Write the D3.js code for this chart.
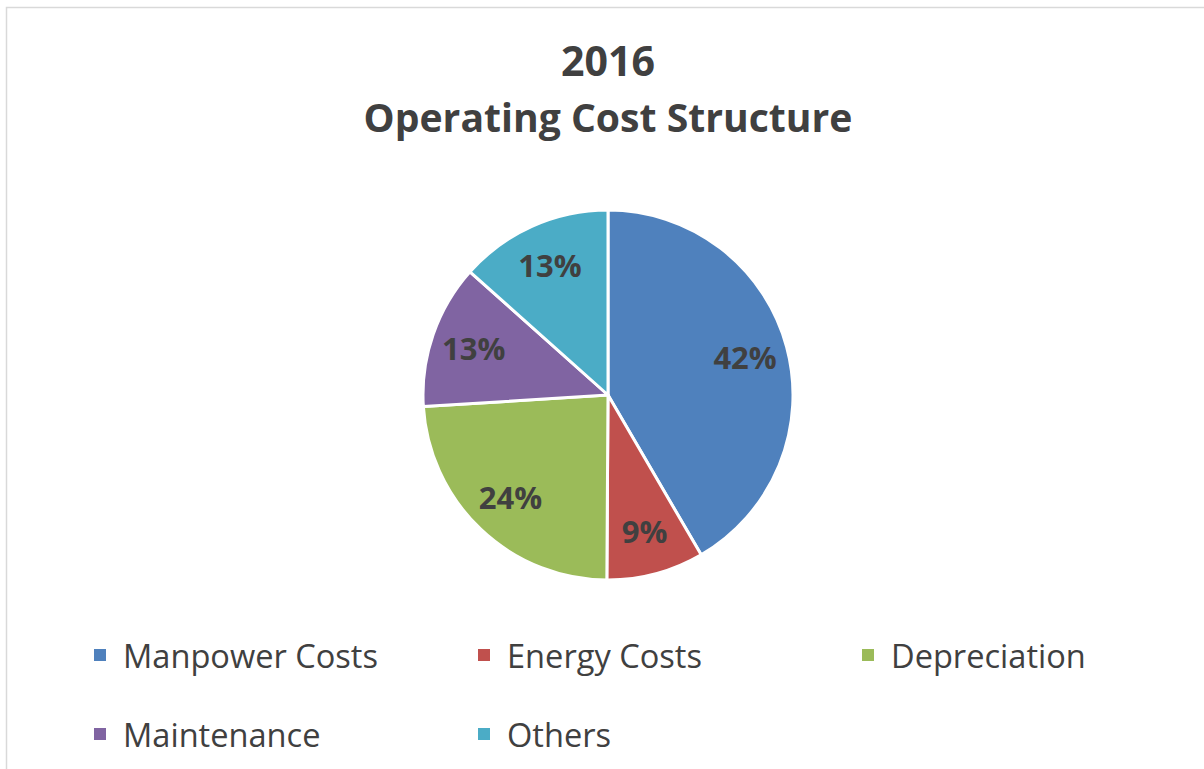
<!DOCTYPE html>
<html>
<head>
<meta charset="utf-8">
<script src="https://cdn.jsdelivr.net/npm/d3@7"></script>
<style>
html,body{margin:0;padding:0;background:#fff;}
svg{display:block;}
</style>
</head>
<body>
<svg id="chart" width="1204" height="769"></svg>
<script>
const titleLines = ["2016", "Operating Cost Structure"];
const categories = ["Manpower Costs", "Energy Costs", "Depreciation", "Maintenance", "Others"];
const values = [41.6, 8.5, 23.9, 12.6, 13.4];
const colors = ["#4F81BD", "#C0504D", "#9BBB59", "#8064A2", "#4BACC6"];

const svg = d3.select("#chart");
const W = 1204, H = 769;
const textColor = "#404040";
const font = "'Open Sans', 'Noto Sans', sans-serif";

svg.append("rect").attr("x", 6.5).attr("y", 7.5).attr("width", W + 20).attr("height", H + 20)
  .attr("fill", "#fff").attr("stroke", "#d9d9d9").attr("stroke-width", 1.5);

function fitWidth(sel, target) {
  const node = sel.node();
  const fs = parseFloat(sel.attr("font-size"));
  const w = node.getComputedTextLength();
  sel.attr("font-size", (fs * target / w).toFixed(2));
}

// Title
const t1 = svg.append("text").attr("x", 608).attr("y", 76).attr("text-anchor", "middle")
  .attr("font-family", font).attr("font-weight", 700).attr("font-size", 40)
  .attr("fill", textColor).text(titleLines[0]);
const t2 = svg.append("text").attr("x", 608).attr("y", 132).attr("text-anchor", "middle")
  .attr("font-family", font).attr("font-weight", 700).attr("font-size", 40)
  .attr("fill", textColor).text(titleLines[1]);
fitWidth(t2, 489);
t1.attr("font-size", (parseFloat(t2.attr("font-size")) * 1.05).toFixed(2));

// Pie
const cx = 608, cy = 395, R = 185;
const total = d3.sum(values);
const pie = d3.pie().sort(null).value(d => d)(values);
const arc = d3.arc().innerRadius(0).outerRadius(R);
const labelArc = d3.arc().innerRadius(142).outerRadius(142);
const g = svg.append("g").attr("transform", `translate(${cx},${cy})`);
g.selectAll("path").data(pie).join("path")
  .attr("d", arc).attr("fill", (d, i) => colors[i])
  .attr("stroke", "#fff").attr("stroke-width", 3).attr("stroke-linejoin", "round");
g.selectAll("text.lbl").data(pie).join("text").attr("class", "lbl")
  .attr("transform", d => `translate(${labelArc.centroid(d)})`)
  .attr("text-anchor", "middle").attr("dy", "0.36em")
  .attr("font-family", font).attr("font-weight", 700).attr("font-size", 31)
  .attr("fill", textColor)
  .text(d => Math.round(d.data / total * 100) + "%");

// Legend
const colX = [94, 478, 862];
const rowY = [668, 747];
const leg = svg.append("g");
categories.forEach((c, i) => {
  const x = colX[i % 3], y = rowY[Math.floor(i / 3)];
  leg.append("rect").attr("x", x).attr("y", y - 19).attr("width", 12).attr("height", 12).attr("fill", colors[i]);
  const t = leg.append("text").attr("x", x + 29).attr("y", y)
    .attr("font-family", font).attr("font-size", 32).attr("fill", textColor).text(c);
  if (i === 0) fitWidth(t, 255);
});
const lfs = leg.select("text").attr("font-size");
leg.selectAll("text").attr("font-size", lfs);
</script>
</body>
</html>
